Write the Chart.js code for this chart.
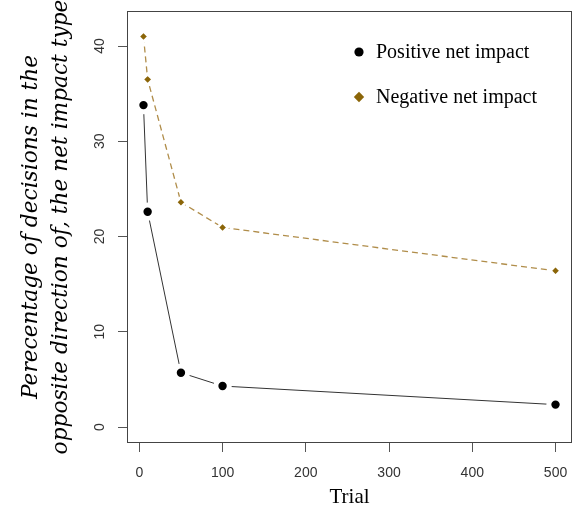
<!DOCTYPE html>
<html>
<head>
<meta charset="utf-8">
<script src="https://cdn.jsdelivr.net/npm/chart.js@4"></script>
<style>
  body { margin: 0; background: #fff; }
</style>
</head>
<body>
<canvas id="myChart" width="579" height="508"></canvas>
<script>
// trials and the two series
const trials = [5, 10, 50, 100, 500];
const positiveVals = [33.8, 22.6, 5.7, 4.3, 2.35];
const negativeVals = [41.0, 36.5, 23.6, 20.95, 16.4];
const xTicks = [0, 100, 200, 300, 400, 500];
const yTicks = [0, 10, 20, 30, 40];
const seriesNames = ['Positive net impact', 'Negative net impact'];

const brown = '#8B6508';

// box around the plot + legend drawn by hand (R style)
const boxPlugin = {
    id: 'boxPlugin',
    afterDraw(chart) {
        const ctx = chart.ctx;
        const a = chart.chartArea;
        ctx.save();
        ctx.strokeStyle = '#444';
        ctx.lineWidth = 1;
        ctx.strokeRect(a.left + 0.5, a.top + 0.5, a.right - a.left - 1, a.bottom - a.top - 1);

        // legend
        const ds = chart.data.datasets;
        const rows = [52, 97];
        ctx.font = '20px "Liberation Serif"';
        ctx.textBaseline = 'middle';
        ds.forEach((d, i) => {
            const y = rows[i];
            ctx.fillStyle = d.pointBackgroundColor;
            ctx.beginPath();
            if (i === 0) {
                ctx.arc(359, y, 4.6, 0, Math.PI * 2);
            } else {
                ctx.moveTo(359, y - 5.2);
                ctx.lineTo(364.2, y);
                ctx.lineTo(359, y + 5.2);
                ctx.lineTo(353.8, y);
                ctx.closePath();
            }
            ctx.fill();
            ctx.fillStyle = '#000';
            ctx.textAlign = 'left';
            ctx.fillText(d.label, 376, y + 1);
        });
        ctx.restore();
    }
};

const data = {
    labels: trials,
    datasets: [{
        label: seriesNames[0],
        data: trials.map((t, i) => ({ x: t, y: positiveVals[i] })),
        borderColor: '#333',
        borderWidth: 1,
        pointStyle: 'circle',
        pointRadius: 6.7,
        pointBorderWidth: 5,
        pointBorderColor: '#fff',
        pointBackgroundColor: '#000',
        tension: 0
    }, {
        label: seriesNames[1],
        data: trials.map((t, i) => ({ x: t, y: negativeVals[i] })),
        borderColor: '#B08D4A',
        borderWidth: 1.3,
        borderDash: [6, 4],
        pointStyle: 'rectRot',
        pointRadius: 5.2,
        pointBorderWidth: 2.7,
        pointBorderColor: '#fff',
        pointBackgroundColor: brown,
        tension: 0
    }]
};

const config = {
    type: 'line',
    data,
    options: {
        responsive: false,
        animation: false,
        layout: { autoPadding: false, padding: { top: 11, right: 7, left: 0, bottom: 0 } },
        plugins: {
            legend: { display: false },
            tooltip: { enabled: false }
        },
        scales: {
            x: {
                type: 'linear',
                min: -14.8,
                max: 519.8,
                afterBuildTicks: (scale) => { scale.ticks = xTicks.map(v => ({ value: v })); },
                afterFit: (scale) => {
                    scale.height = 65;
                    scale.paddingLeft = 0;
                    scale.paddingRight = 0;
                },
                border: { display: false },
                grid: { drawOnChartArea: false, drawTicks: true, tickLength: 9, color: '#555' },
                ticks: {
                    color: '#333',
                    font: { family: '"Liberation Sans"', size: 14 },
                    padding: 13,
                    maxRotation: 0,
                    autoSkip: false
                },
                title: {
                    display: true,
                    text: 'Trial',
                    color: '#000',
                    font: { family: '"Liberation Serif"', size: 21, lineHeight: 1 },
                    padding: { top: 0, bottom: 0 }
                }
            },
            y: {
                min: -1.68,
                max: 43.68,
                afterBuildTicks: (scale) => { scale.ticks = yTicks.map(v => ({ value: v })); },
                afterFit: (scale) => {
                    scale.width = 127;
                    scale.paddingTop = 0;
                    scale.paddingBottom = 0;
                },
                border: { display: false },
                grid: { drawOnChartArea: false, drawTicks: true, tickLength: 9, color: '#555' },
                ticks: {
                    color: '#333',
                    font: { family: '"Liberation Sans"', size: 14 },
                    padding: 10,
                    minRotation: 90,
                    maxRotation: 90,
                    crossAlign: 'center',
                    autoSkip: false
                },
                title: {
                    display: true,
                    text: ['Perecentage of decisions in the', 'opposite direction of, the net impact type'],
                    color: '#000',
                    font: { family: '"DejaVu Serif"', style: 'italic', size: 21.7, lineHeight: 1.36 },
                    padding: { top: 17, bottom: 0 }
                }
            }
        }
    },
    plugins: [boxPlugin]
};

const canvas = document.getElementById('myChart');
let myChart = new Chart(canvas, config);
</script>
</body>
</html>
